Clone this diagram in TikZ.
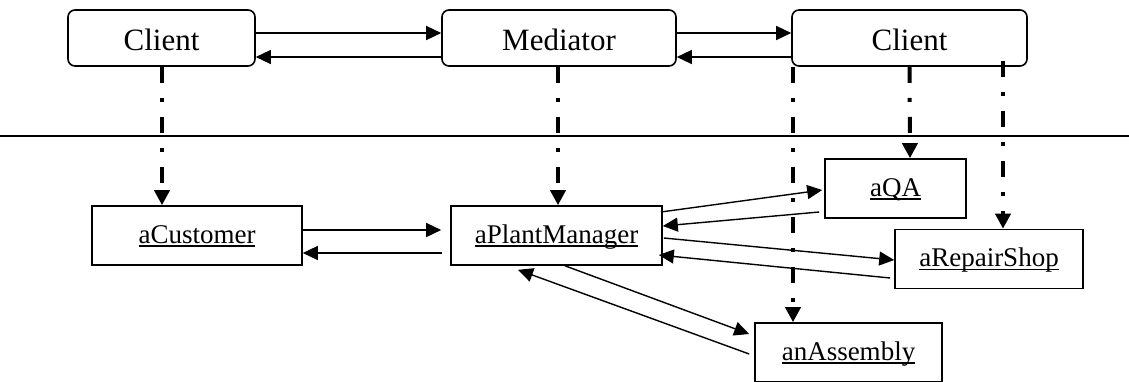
\documentclass[tikz,border=0pt]{standalone}
\usepackage{fontspec}
\setmainfont{Liberation Serif}
\usetikzlibrary{arrows.meta}
\newcommand{\ulx}[1]{\setbox0\hbox{#1}\rlap{\rule[-3.5pt]{\wd0}{1.2pt}}\box0}
\begin{document}
\begin{tikzpicture}[x=1pt,y=-1pt,
  topbox/.style={draw,line width=1.6pt,rounded corners=7pt,inner sep=0pt,minimum height=56pt,
    font=\fontsize{31}{36}\selectfont,text height=28pt,text depth=4pt},
  objbox/.style={draw,line width=1.6pt,inner sep=0pt,minimum height=59pt,
    font=\fontsize{27}{32}\selectfont,text height=21pt,text depth=6pt},
  msg/.style={line width=1.4pt,-{Triangle[length=15pt,width=14pt]}},
  inst/.style={line width=4pt,dash pattern=on 16pt off 15pt on 4pt off 15pt,
    -{Triangle[length=15pt,width=15pt]}}]
\useasboundingbox (0,0) rectangle (1129,381);
% top row
\node[topbox,minimum width=187pt] (c1) at (161.5,38) {Client};
\node[topbox,minimum width=234pt] (med) at (559,38) {Mediator};
\node[topbox,minimum width=235pt] (c2) at (909.5,38) {Client};
% separator
\coordinate (L) at (0,136);
\coordinate (R) at (1129,136);
\draw[line width=1.5pt] (L) -- (R);
% bottom row
\node[objbox,minimum width=210pt] (cu) at (197,235.5) {\ulx{aCustomer}};
\node[objbox,minimum width=211pt] (pm) at (556.5,235.5) {\ulx{aPlantManager}};
\node[objbox,minimum width=141pt] (qa) at (895.5,188.5) {\ulx{aQA}};
\node[objbox,minimum width=188pt] (rs) at (989,259) {\ulx{aRepairShop}};
\node[objbox,minimum width=187pt] (as) at (848.5,352.5) {\ulx{anAssembly}};
% top messages
\draw[msg] ([yshift=5pt]c1.east) -- ([yshift=5pt]med.west);
\draw[msg] ([yshift=-19pt]med.west) -- ([yshift=-19pt]c1.east);
\draw[msg] ([yshift=5pt]med.east) -- ([yshift=5pt]c2.west);
\draw[msg] ([yshift=-19pt]c2.west) -- ([yshift=-19pt]med.east);
% bottom messages
\draw[msg] ([yshift=5.5pt]cu.east) -- ([xshift=-9pt,yshift=5.5pt]pm.west);
\draw[msg] ([xshift=-8pt,yshift=-17.5pt]pm.west) -- ([yshift=-17.5pt]cu.east);
\draw[msg] ([xshift=-2pt,yshift=23.5pt]pm.east) -- ([xshift=-2pt,yshift=-1.5pt]qa.west);
\draw[msg] ([xshift=-5pt,yshift=-23.5pt]qa.west) -- ([yshift=9.5pt]pm.east);
\draw[msg] ([xshift=1pt,yshift=-2.5pt]pm.east) -- ([yshift=-1pt]rs.west);
\draw[msg] ([xshift=-4pt,yshift=-19pt]rs.west) -- ([xshift=-4pt,yshift=-19.5pt]pm.east);
\draw[msg] ([xshift=8.5pt]pm.south) -- ([xshift=-5pt,yshift=18.5pt]as.west);
\draw[msg] ([xshift=-5pt,yshift=-1.5pt]as.west) -- ([xshift=-38.5pt,yshift=-4pt]pm.south);
% instantiation links
\draw[inst] ([xshift=0.5pt]c1.south) -- ([xshift=-35pt]cu.north);
\draw[inst] ([xshift=-1pt]med.south) -- ([xshift=1.5pt]pm.north);
\draw[inst] ([xshift=-116.5pt]c2.south) -- ([xshift=-55.5pt]as.north);
\draw[inst] (c2.south) -- ([xshift=14.5pt]qa.north);
\draw[inst] ([xshift=93.5pt,yshift=6pt]c2.south) -- ([xshift=14pt]rs.north);
\end{tikzpicture}
\end{document}
